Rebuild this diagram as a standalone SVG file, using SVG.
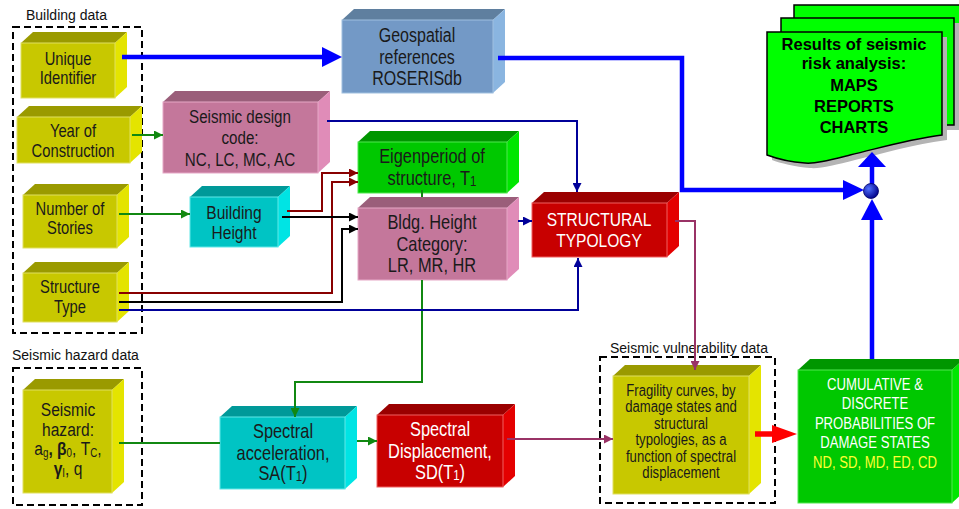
<svg xmlns="http://www.w3.org/2000/svg" width="959" height="509" viewBox="0 0 959 509">
<style>
.lbl{font-family:"Liberation Sans",Arial,sans-serif;font-size:14px;fill:#111}
.t{font-family:"Liberation Sans",Arial,sans-serif;text-anchor:middle;fill:#1a1a1a}
.w{fill:#fff}
.yl{fill:#ffff33}
.res{font-family:"Liberation Sans",Arial,sans-serif;font-weight:bold;font-size:16.5px;text-anchor:middle;fill:#000}
.dash{fill:none;stroke:#000;stroke-width:2;stroke-dasharray:7 4}
.yF{fill:#c8c800;stroke:#e0e060;stroke-width:1}.yT{fill:#9a9a00}.yS{fill:#e4e400}
.pF{fill:#c4779b;stroke:#e6a8c6;stroke-width:1}.pT{fill:#9a5e7a}.pS{fill:#e08cb8}
.cF{fill:#00c4c4;stroke:#60e8e8;stroke-width:1}.cT{fill:#009999}.cS{fill:#00e4e4}
.gF{fill:#00c800;stroke:#50e850;stroke-width:1}.gT{fill:#009600}.gS{fill:#00e600}
.rF{fill:#c80000;stroke:#f06060;stroke-width:1}.rT{fill:#9a0000}.rS{fill:#e40000}
.bF{fill:#7399c6;stroke:#a0c0e0;stroke-width:1}.bT{fill:#5f7f9f}.bS{fill:#8ab5e0}
.ln{fill:none;stroke-width:2}
.thick{fill:none;stroke:#0000ff;stroke-width:4.5}
.page{fill:#00ff00;stroke:#000;stroke-width:1.5}
.shadow{fill:#b4b4b4}
</style>
<defs>
<marker id="mG" viewBox="0 0 10 10" refX="10" refY="5" markerWidth="10" markerHeight="9" markerUnits="userSpaceOnUse" orient="auto"><path d="M0,0L10,5L0,10z" fill="#118811"/></marker>
<marker id="mN" viewBox="0 0 10 10" refX="10" refY="5" markerWidth="10" markerHeight="9" markerUnits="userSpaceOnUse" orient="auto"><path d="M0,0L10,5L0,10z" fill="#000099"/></marker>
<marker id="mR" viewBox="0 0 10 10" refX="10" refY="5" markerWidth="10" markerHeight="9" markerUnits="userSpaceOnUse" orient="auto"><path d="M0,0L10,5L0,10z" fill="#880000"/></marker>
<marker id="mK" viewBox="0 0 10 10" refX="10" refY="5" markerWidth="10" markerHeight="9" markerUnits="userSpaceOnUse" orient="auto"><path d="M0,0L10,5L0,10z" fill="#000"/></marker>
<marker id="mP" viewBox="0 0 10 10" refX="10" refY="5" markerWidth="10" markerHeight="9" markerUnits="userSpaceOnUse" orient="auto"><path d="M0,0L10,5L0,10z" fill="#993366"/></marker>
<radialGradient id="ball" cx="0.35" cy="0.35" r="0.7"><stop offset="0" stop-color="#5070ff"/><stop offset="1" stop-color="#000088"/></radialGradient>
</defs>
<rect width="959" height="509" fill="#fff"/>

<g id="groups">
<text class="lbl" x="26" y="20">Building data</text>
<rect class="dash" x="13" y="27" width="129" height="306"/>
<text class="lbl" x="12" y="360">Seismic hazard data</text>
<rect class="dash" x="13" y="368" width="129" height="137"/>
<text class="lbl" x="610" y="353">Seismic vulnerability data</text>
<rect class="dash" x="600" y="357" width="175" height="146"/>
</g>

<g id="unique-identifier">
<polygon class="yT" points="21,43 33,32 127,32 115,43"/><polygon class="yS" points="115,43 127,32 127,87 115,98"/><rect class="yF" x="21" y="43" width="94" height="55"/>
<g class="t" font-size="18" transform="translate(68,0) scale(0.82,1)"><text y="65">Unique</text><text y="84">Identifier</text></g>
</g>
<g id="year-of-construction">
<polygon class="yT" points="17,117 29,106 142,106 130,117"/><polygon class="yS" points="130,117 142,106 142,152 130,163"/><rect class="yF" x="17" y="117" width="113" height="46"/>
<g class="t" font-size="18" transform="translate(73,0) scale(0.82,1)"><text y="137">Year of</text><text y="157">Construction</text></g>
</g>
<g id="number-of-stories">
<polygon class="yT" points="23,195 35,184 129,184 117,195"/><polygon class="yS" points="117,195 129,184 129,237 117,248"/><rect class="yF" x="23" y="195" width="94" height="53"/>
<g class="t" font-size="18" transform="translate(70,0) scale(0.82,1)"><text y="215">Number of</text><text y="234">Stories</text></g>
</g>
<g id="structure-type">
<polygon class="yT" points="23,273 35,262 129,262 117,273"/><polygon class="yS" points="117,273 129,262 129,311 117,322"/><rect class="yF" x="23" y="273" width="94" height="49"/>
<g class="t" font-size="18" transform="translate(70,0) scale(0.82,1)"><text y="293">Structure</text><text y="313">Type</text></g>
</g>
<g id="seismic-design-code">
<polygon class="pT" points="163,102 175,91 330,91 318,102"/><polygon class="pS" points="318,102 330,91 330,162 318,173"/><rect class="pF" x="163" y="102" width="155" height="71"/>
<g class="t" font-size="18.5" transform="translate(240,0) scale(0.82,1)"><text y="123">Seismic design</text><text y="144">code:</text><text y="166">NC, LC, MC, AC</text></g>
</g>
<g id="building-height">
<polygon class="cT" points="190,197 202,186 290,186 278,197"/><polygon class="cS" points="278,197 290,186 290,236 278,247"/><rect class="cF" x="190" y="197" width="88" height="50"/>
<g class="t" font-size="19" transform="translate(234,0) scale(0.82,1)"><text y="219">Building</text><text y="239">Height</text></g>
</g>
<g id="geospatial-references">
<polygon class="bT" points="342,20 354,9 505,9 493,20"/><polygon class="bS" points="493,20 505,9 505,82 493,93"/><rect class="bF" x="342" y="20" width="151" height="73"/>
<g class="t" font-size="19.5" transform="translate(417,0) scale(0.82,1)"><text y="42">Geospatial</text><text y="64">references</text><text y="85">ROSERISdb</text></g>
</g>
<g id="eigenperiod">
<polygon class="gT" points="358,142 370,131 519,131 507,142"/><polygon class="gS" points="507,142 519,131 519,182 507,193"/><rect class="gF" x="358" y="142" width="149" height="51"/>
<g class="t" font-size="20" transform="translate(432,0) scale(0.82,1)"><text y="163">Eigenperiod of</text><text y="185">structure, T<tspan font-size="14" dy="1">1</tspan></text></g>
</g>
<g id="bldg-height-category">
<polygon class="pT" points="358,208 370,197 519,197 507,208"/><polygon class="pS" points="507,208 519,197 519,269 507,280"/><rect class="pF" x="358" y="208" width="149" height="72"/>
<g class="t" font-size="20" transform="translate(432,0) scale(0.82,1)"><text y="229">Bldg. Height</text><text y="251">Category:</text><text y="272">LR, MR, HR</text></g>
</g>
<g id="structural-typology">
<polygon class="rT" points="532,203 544,192 679,192 667,203"/><polygon class="rS" points="667,203 679,192 679,246 667,257"/><rect class="rF" x="532" y="203" width="135" height="54"/>
<g class="t w" font-size="19" transform="translate(599,0) scale(0.82,1)"><text class="w" y="226">STRUCTURAL</text><text class="w" y="247">TYPOLOGY</text></g>
</g>
<g id="seismic-hazard">
<polygon class="yT" points="23,390 35,379 124,379 112,390"/><polygon class="yS" points="112,390 124,379 124,482 112,493"/><rect class="yF" x="23" y="390" width="89" height="103"/>
<g class="t" font-size="19" transform="translate(68,0) scale(0.82,1)"><text y="416">Seismic</text><text y="436">hazard:</text>
<text y="455">a<tspan font-size="12" dy="2">g</tspan><tspan dy="-2" font-weight="bold">, β</tspan><tspan font-size="12" dy="2">0</tspan><tspan dy="-2">, T</tspan><tspan font-size="12" dy="2">C</tspan><tspan dy="-2">,</tspan></text>
<text y="475"><tspan font-weight="bold">γ</tspan><tspan font-size="12" dy="2">I</tspan><tspan dy="-2">, q</tspan></text></g>
</g>
<g id="spectral-acceleration">
<polygon class="cT" points="220,417 232,406 357,406 345,417"/><polygon class="cS" points="345,417 357,406 357,478 345,489"/><rect class="cF" x="220" y="417" width="125" height="72"/>
<g class="t" font-size="20" transform="translate(283,0) scale(0.82,1)"><text y="438">Spectral</text><text y="460">acceleration,</text><text y="480">SA(T<tspan font-size="14" dy="1">1</tspan><tspan dy="-1">)</tspan></text></g>
</g>
<g id="spectral-displacement">
<polygon class="rT" points="377,415 389,404 515,404 503,415"/><polygon class="rS" points="503,415 515,404 515,476 503,487"/><rect class="rF" x="377" y="415" width="126" height="72"/>
<g class="t" font-size="20" transform="translate(440,0) scale(0.82,1)"><text class="w" y="436">Spectral</text><text class="w" y="458">Displacement,</text><text class="w" y="479">SD(T<tspan font-size="14" dy="1">1</tspan><tspan dy="-1">)</tspan></text></g>
</g>
<g id="fragility-curves">
<polygon class="yT" points="613,376 625,365 761,365 749,376"/><polygon class="yS" points="749,376 761,365 761,483 749,494"/><rect class="yF" x="613" y="376" width="136" height="118"/>
<g class="t" font-size="16" transform="translate(681,0) scale(0.82,1)"><text y="396">Fragility curves, by</text><text y="412">damage states and</text><text y="429">structural</text><text y="445">typologies, as a</text><text y="462">function of spectral</text><text y="478">displacement</text></g>
</g>
<g id="damage-probabilities">
<polygon class="gT" points="798,370 810,359 964,359 952,370"/><polygon class="gS" points="952,370 964,359 964,492 952,503"/><rect class="gF" x="798" y="370" width="154" height="133"/>
<g class="t" font-size="16" transform="translate(875,0) scale(0.82,1)"><text class="w" y="390">CUMULATIVE &amp;</text><text class="w" y="409">DISCRETE</text><text class="w" y="429">PROBABILITIES OF</text><text class="w" y="448">DAMAGE STATES</text><text class="yl" y="468">ND, SD, MD, ED, CD</text></g>
</g>
<g id="results">
<rect class="shadow" x="799" y="10" width="170" height="105"/>
<rect class="page" x="794" y="5" width="175" height="105"/>
<rect class="shadow" x="786" y="23" width="173" height="107"/>
<rect class="page" x="781" y="18" width="173" height="107"/>
<path class="shadow" d="M772,37H947V140C910,145 885,153 855,160C835,165 820,169 810,168C795,167 780,163 772,160Z"/>
<path class="page" d="M767,32H942V135C905,140 880,148 850,155C830,160 815,164 805,163C790,162 775,158 767,155Z"/>
<text class="res" x="854" y="50">Results of seismic</text><text class="res" x="854" y="69">risk analysis:</text><text class="res" x="854" y="91">MAPS</text><text class="res" x="854" y="112">REPORTS</text><text class="res" x="854" y="133">CHARTS</text>
</g>

<g id="connectors">
<path class="ln" stroke="#118811" d="M132,135H163" marker-end="url(#mG)"/>
<path class="ln" stroke="#118811" d="M119,214H190" marker-end="url(#mG)"/>
<path class="ln" stroke="#118811" d="M119,443H220"/>
<path class="ln" stroke="#118811" d="M422,190V197"/>
<path class="ln" stroke="#118811" d="M422,280V382H295V417" marker-end="url(#mG)"/>
<path class="ln" stroke="#118811" d="M357,441H377" marker-end="url(#mG)"/>
<path class="ln" stroke="#000099" d="M327,121H577V192" marker-end="url(#mN)"/>
<path class="ln" stroke="#000099" d="M518,221H532" marker-end="url(#mN)"/>
<path class="ln" stroke="#000099" d="M119,310H578V258" marker-end="url(#mN)"/>
<path class="ln" stroke="#880000" d="M287,211H322V173H358" marker-end="url(#mR)"/>
<path class="ln" stroke="#880000" d="M119,293H332V182H358" marker-end="url(#mR)"/>
<path class="ln" stroke="#000" d="M282,217H358" marker-end="url(#mK)"/>
<path class="ln" stroke="#000" d="M119,302H342V229H358" marker-end="url(#mK)"/>
<path class="ln" stroke="#993366" d="M507,439H613" marker-end="url(#mP)"/>
<path class="ln" stroke="#993366" d="M675,221H695V370" marker-end="url(#mP)"/>
<path d="M755,434H774" fill="none" stroke="#ff0000" stroke-width="5.5"/>
<polygon points="772,425 797,434 772,443" fill="#ff0000"/>
<path class="thick" d="M122,57H324"/>
<polygon points="322,47 342,57 322,67" fill="#0000ff"/>
<path class="thick" d="M498,58H682V190H845"/>
<polygon points="843,180 864,190 843,200" fill="#0000ff"/>
<path class="thick" d="M872,359V218"/>
<polygon points="861,220 872,199 883,220" fill="#0000ff"/>
<path class="thick" d="M872,186V165"/>
<polygon points="858,167 872,152 886,167" fill="#0000ff"/>
<circle cx="871" cy="191" r="7.5" fill="url(#ball)" stroke="#000066" stroke-width="0.8"/>
</g>
</svg>
